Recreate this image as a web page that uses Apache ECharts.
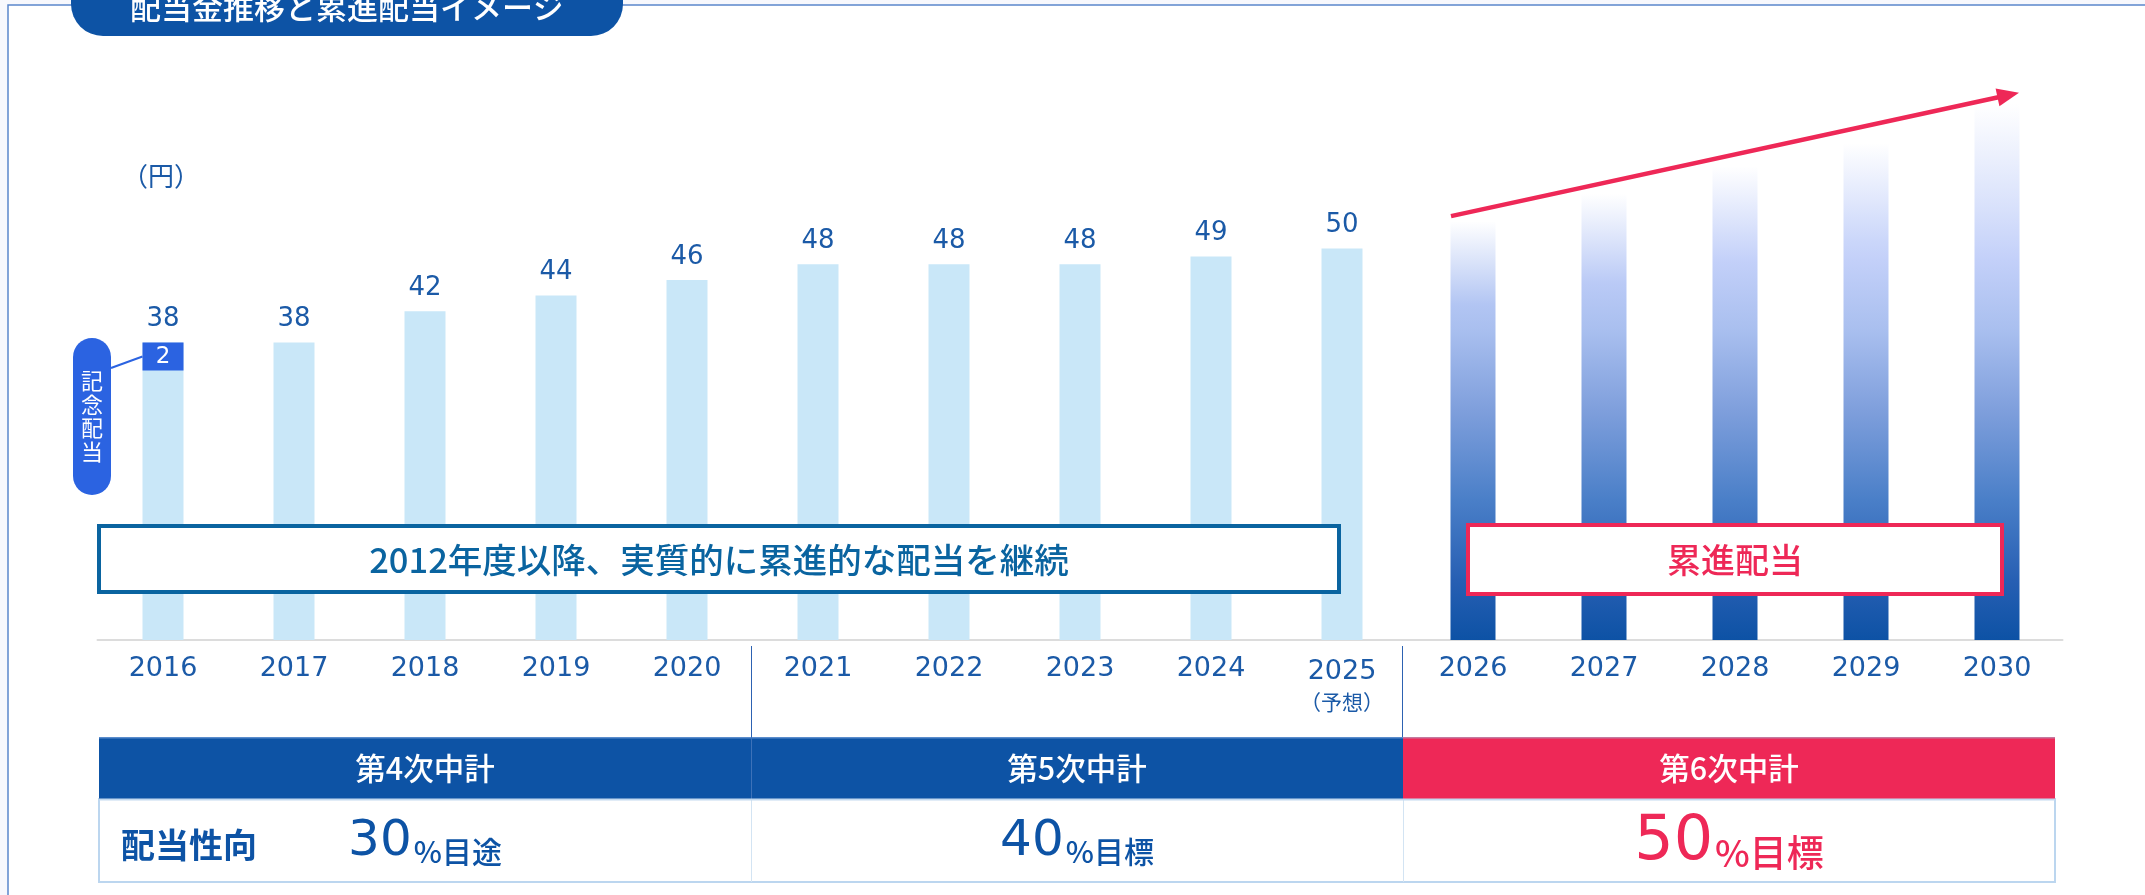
<!DOCTYPE html>
<html><head><meta charset="utf-8">
<script src="https://cdn.jsdelivr.net/npm/echarts@6/dist/echarts.min.js"></script>
<style>html,body{margin:0;padding:0;background:#f7f8fd}#c{width:2145px;height:895px}</style>
</head><body><div id="c"></div>
<script>
// ---------- data ----------
const years = ['2016','2017','2018','2019','2020','2021','2022','2023','2024','2025','2026','2027','2028','2029','2030'];
const dividends = [38,38,42,44,46,48,48,48,49,50,null,null,null,null,null];
const commemorative = [2,null,null,null,null,null,null,null,null,null,null,null,null,null,null];
const progressiveImage = [null,null,null,null,null,null,null,null,null,null,53.5,57,60.5,63.5,68.5];
const forecastYear = '2025';
const forecastNote = '（予想）';
const planNames = ['第4次中計','第5次中計','第6次中計'];
const payoutRatios = ['30','40','50'];
const payoutNotes = ['%目途','%目標','%目標'];
const payoutLabel = '配当性向';
const bannerPast = '2012年度以降、実質的に累進的な配当を継続';
const bannerFuture = '累進配当';
const commemorativeLabel = '記念配当';
const unitLabel = '（円）';
const titleText = '配当金推移と累進配当イメージ';

// ---------- style ----------
const CJK = '"Noto Sans CJK JP","Noto Sans",sans-serif';
const NUM = '"DejaVu Sans","Noto Sans",sans-serif';
const BLUE = '#0d53a5', PINK = '#ee2857', LABEL = '#1b5aa7', BOXBLUE = '#0a64a0';
const MEMO = '#2b63e1', LIGHT = '#c9e7f8';

const absStops = [[440,'#dbe3fc'],[380,'#c3d0f9'],[310,'#a9bfef'],[230,'#7f9fdc'],[140,'#4a7fc8'],[60,'#275fb3'],[0,'#0d52a5']];
function h2r(h){return [parseInt(h.substr(1,2),16),parseInt(h.substr(3,2),16),parseInt(h.substr(5,2),16)];}
function colorAt(d){
  if (d >= absStops[0][0]) return absStops[0][1];
  for (let i=0;i<absStops.length-1;i++){
    const [d0,c0]=absStops[i],[d1,c1]=absStops[i+1];
    if (d<=d0 && d>=d1){
      const t=(d0-d)/(d0-d1), a=h2r(c0), b=h2r(c1);
      return 'rgb('+a.map((v,k)=>Math.round(v+(b[k]-v)*t)).join(',')+')';
    }
  }
  return absStops[absStops.length-1][1];
}

const chart = echarts.init(document.getElementById('c'));
const pastData = dividends.map(v => v == null ? '-' : v);
const futureData = progressiveImage.map((v,i)=>v==null?null:[i,v]).filter(Boolean);
const memoData = commemorative.map((v,i)=>v==null?null:[i,dividends[i],v]).filter(Boolean);

chart.setOption({
  animation:false,
  backgroundColor:'transparent',
  grid:{left:97.5,right:82.5,top:92,bottom:255,containLabel:false},
  xAxis:{type:'category',data:years,boundaryGap:true,
    axisLine:{show:true,lineStyle:{color:'#dcdcdc',width:2}},
    axisTick:{show:false},
    axisLabel:{margin:14,interval:0,
      formatter:v => v===forecastYear ? '{y2|'+v+'}\n{s|'+forecastNote+'}' : '{y|'+v+'}',
      rich:{
        y:{fontFamily:NUM,fontSize:27,color:LABEL,lineHeight:30},
        y2:{fontFamily:NUM,fontSize:27,color:LABEL,lineHeight:36},
        s:{fontFamily:CJK,fontSize:21,color:LABEL,lineHeight:25}
      }}},
  yAxis:{type:'value',min:0,max:70,show:false,splitLine:{show:false}},
  series:[
    {type:'bar',name:'配当金',data:pastData,barWidth:41,itemStyle:{color:LIGHT},z:2,
      label:{show:true,position:'top',distance:10,color:LABEL,fontFamily:NUM,fontSize:26}},
    {type:'custom',name:'累進配当',data:futureData,encode:{x:0,y:1},z:2,
      renderItem:(params,api)=>{
        const idx=api.value(0), val=api.value(1);
        const t=api.coord([idx,val]), b=api.coord([idx,0]);
        const h=b[1]-t[1], w=45, fade=0.2;
        const stops=[{offset:0,color:'#ffffff'},{offset:fade,color:colorAt(h*(1-fade))}];
        absStops.forEach(([d,c])=>{const off=1-d/h; if(off>fade && off<=1) stops.push({offset:off,color:c});});
        return {type:'rect',shape:{x:t[0]-w/2,y:t[1],width:w,height:h},
          style:{fill:new echarts.graphic.LinearGradient(0,0,0,1,stops)}};
      }},
    {type:'custom',name:'記念配当',data:memoData,encode:{x:0,y:1},z:3,
      renderItem:(params,api)=>{
        const idx=api.value(0), tot=api.value(1), m=api.value(2);
        const t=api.coord([idx,tot]);
        const h=Math.max(api.size([0,m])[1],28), w=41;
        return {type:'group',children:[
          {type:'rect',shape:{x:t[0]-w/2,y:t[1],width:w,height:h},style:{fill:MEMO}},
          {type:'text',style:{text:String(m),x:t[0],y:t[1]+h/2+1,align:'center',verticalAlign:'middle',
            fill:'#fff',font:'23px '+NUM}}
        ]};
      }}
  ]
});

// ---------- decorations ----------
const p0 = chart.convertToPixel({xAxisIndex:0,yAxisIndex:0},[years[10],progressiveImage[10]]);
const p1 = chart.convertToPixel({xAxisIndex:0,yAxisIndex:0},[years[14],progressiveImage[14]]);
const sx=p0[0]-22, sy=p0[1]-5, ex=p1[0]+22, ey=p1[1]-11;
const L=Math.hypot(ex-sx,ey-sy), ux=(ex-sx)/L, uy=(ey-sy)/L, px=-uy, py=ux;
const hl=22, hw=9;
const bx=ex-ux*hl, by=ey-uy*hl;

const m0 = chart.convertToPixel({xAxisIndex:0,yAxisIndex:0},[years[0],dividends[0]]);

const TL=99, CW=652, HT=737, HH=62, BH=83;
const g=[];
g.push({type:'rect',shape:{x:8,y:5,width:2300,height:1000},style:{fill:'#ffffff',stroke:'#5b86cc',lineWidth:1.5},z:-5});
// title
g.push({type:'rect',shape:{x:71,y:-34,width:552,height:70,r:32},style:{fill:BLUE},z:20});
g.push({type:'text',style:{text:titleText,x:347,y:7,align:'center',verticalAlign:'middle',fill:'#fff',font:'500 31px '+CJK},z:21});
// unit
g.push({type:'text',style:{text:unitLabel,x:161,y:176,align:'center',verticalAlign:'middle',fill:LABEL,font:'26px '+CJK},z:21});
// commemorative pill
g.push({type:'rect',shape:{x:73,y:338,width:38,height:157,r:19},style:{fill:MEMO},z:20});
commemorativeLabel.split('').forEach((ch,k)=>g.push({type:'text',style:{text:ch,x:92,y:381+k*23.5,align:'center',verticalAlign:'middle',
  fill:'#fff',font:'22px '+CJK},z:21}));
g.push({type:'line',shape:{x1:111,y1:368,x2:m0[0]-20.5,y2:m0[1]+14},style:{stroke:MEMO,lineWidth:2},z:21});
// banners
g.push({type:'rect',shape:{x:99,y:526,width:1240,height:66},style:{fill:'#fff',stroke:BOXBLUE,lineWidth:4},z:20});
g.push({type:'text',style:{text:bannerPast,x:719,y:560,align:'center',verticalAlign:'middle',fill:BOXBLUE,font:'500 34.5px '+CJK},z:21});
g.push({type:'rect',shape:{x:1468,y:525,width:534,height:69},style:{fill:'#fff',stroke:PINK,lineWidth:4},z:20});
g.push({type:'text',style:{text:bannerFuture,x:1735,y:560,align:'center',verticalAlign:'middle',fill:PINK,font:'500 34px '+CJK},z:21});
// arrow
g.push({type:'line',shape:{x1:sx,y1:sy,x2:bx+ux*2,y2:by+uy*2},style:{stroke:PINK,lineWidth:4.5},z:22});
g.push({type:'polygon',shape:{points:[[ex,ey],[bx+px*hw,by+py*hw],[bx-px*hw,by-py*hw]]},style:{fill:PINK},z:22});
// separators
[751,1402].forEach(x=>g.push({type:'line',shape:{x1:x+0.5,y1:646,x2:x+0.5,y2:HT},style:{stroke:'#2d62b2',lineWidth:1},z:20}));
// table
g.push({type:'rect',shape:{x:TL,y:HT+HH,width:CW*3,height:BH},style:{fill:'#fff',stroke:'#bcd6ef',lineWidth:2},z:20});
planNames.forEach((n,i)=>{
  const x=TL+CW*i, col=i===2?PINK:BLUE;
  g.push({type:'rect',shape:{x:x,y:HT,width:CW,height:HH},style:{fill:col},z:21});
  g.push({type:'line',shape:{x1:x,y1:HT+0.75,x2:x+CW,y2:HT+0.75},style:{stroke:i===2?'#c47aa0':'#5a8ccc',lineWidth:1.5},z:22});
  g.push({type:'text',style:{text:n,x:x+CW/2,y:HT+HH/2+0.5,align:'center',verticalAlign:'middle',fill:'#fff',font:'500 30.5px '+CJK},z:23});
  if(i>0) g.push({type:'line',shape:{x1:x+0.5,y1:HT+HH,x2:x+0.5,y2:HT+HH+BH},style:{stroke:'#d3e4f3',lineWidth:1},z:22});
  if(i===1) g.push({type:'line',shape:{x1:x+0.5,y1:HT,x2:x+0.5,y2:HT+HH},style:{stroke:'#3d72b9',lineWidth:1},z:22});
  const big=i===2, c=i===2?PINK:BLUE;
  const nf=big?62:50, uf=big?37:30;
  g.push({type:'text',style:{text:'{n|'+payoutRatios[i]+'}{u|'+payoutNotes[i]+'}',x:x+CW/2,y:HT+HH+BH/2+2,align:'center',verticalAlign:'middle',
    rich:{n:{fontFamily:NUM,fontSize:nf,fontWeight:500,lineHeight:nf,fill:c,color:c,verticalAlign:'bottom'},
          u:{fontFamily:CJK,fontSize:uf,fontWeight:500,lineHeight:uf,fill:c,color:c,verticalAlign:'bottom',padding:[0,0,big?2:1,2]}}},z:23});
});
g.push({type:'line',shape:{x1:TL,y1:HT+HH+0.5,x2:TL+CW*3,y2:HT+HH+0.5},style:{stroke:'#c3d9ef',lineWidth:2},z:22});
g.push({type:'text',style:{text:payoutLabel,x:121,y:845,align:'left',verticalAlign:'middle',fill:BLUE,font:'bold 34px '+CJK},z:23});

chart.setOption({graphic:g});
</script></body></html>
